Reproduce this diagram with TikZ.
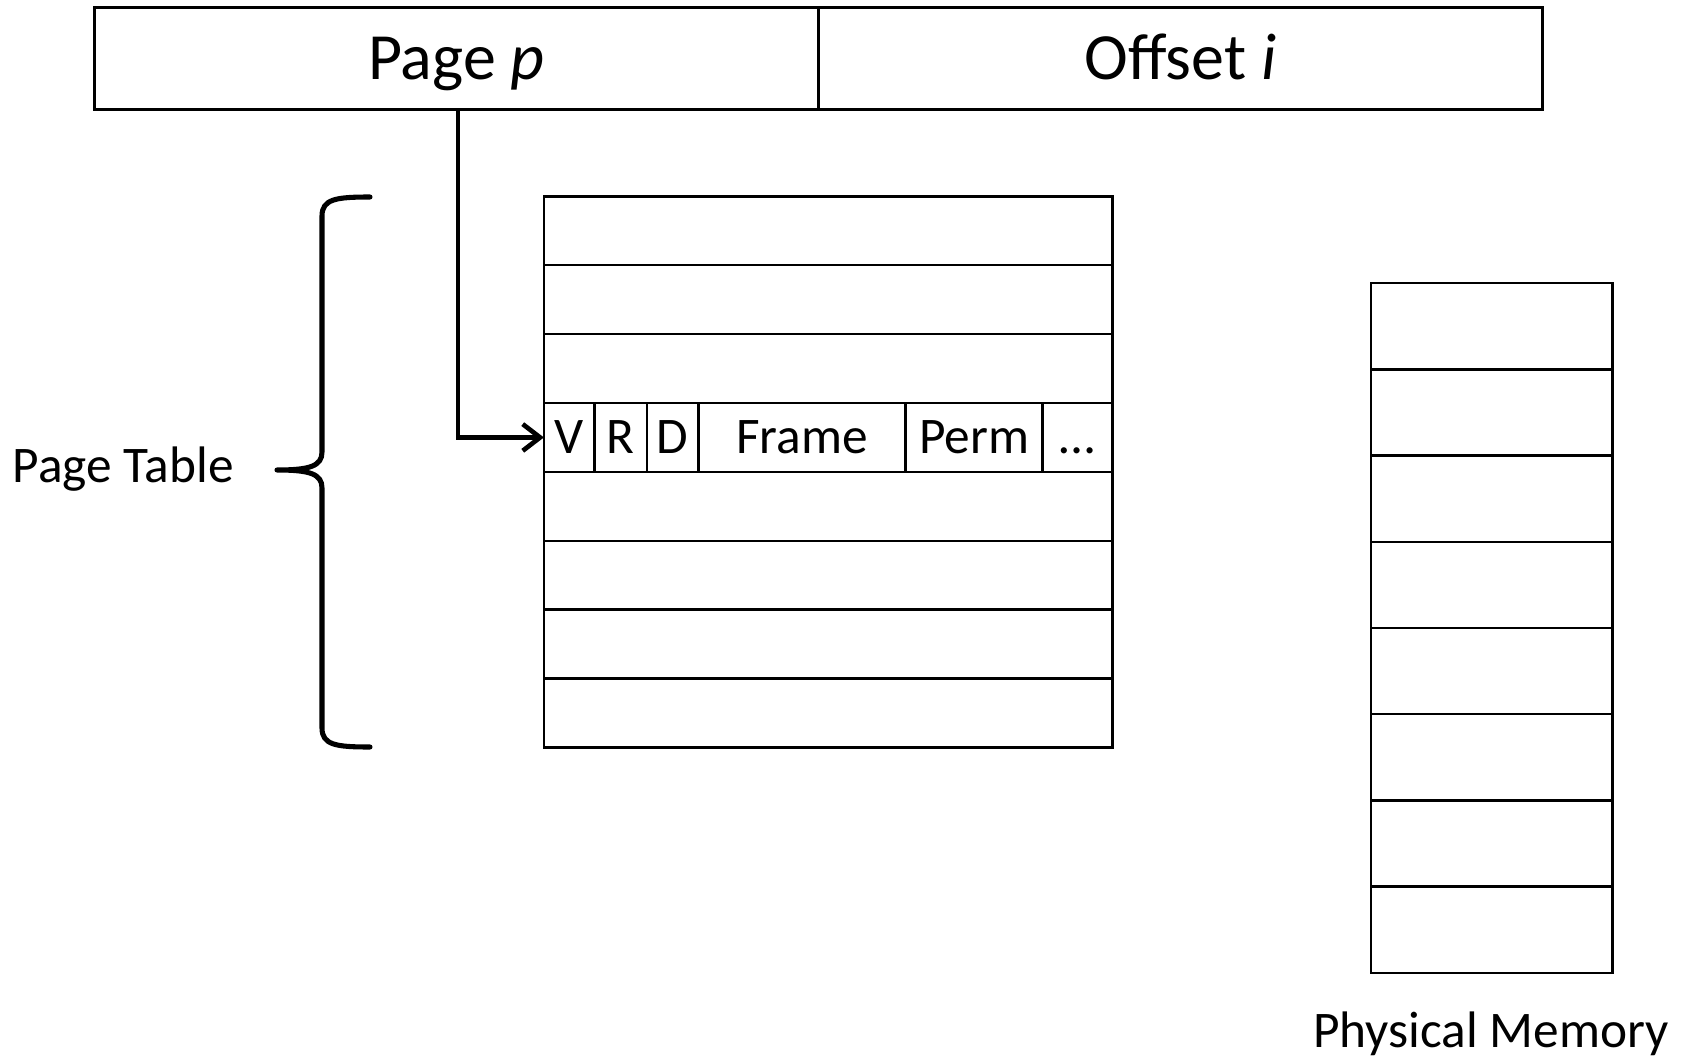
\documentclass[tikz,border=0pt]{standalone}
\usepackage{fontspec}
\setmainfont{Carlito}
\usetikzlibrary{arrows.meta}
\begin{document}
\begin{tikzpicture}[x=0.75pt,y=-0.75pt,
  box/.style={draw, line width=1.9pt, inner sep=0pt, outer sep=0pt, anchor=north west},
  bigtxt/.style={font=\fontsize{49.5}{59}\selectfont, text height=31.2pt, text depth=0pt},
  smalltxt/.style={font=\fontsize{38.5}{46}\selectfont, text height=24.2pt, text depth=0pt},
  lbl/.style={smalltxt, inner sep=0pt, outer sep=0pt},
  conn/.style={line width=3.5pt, -{Straight Barb[length=13pt,width=20pt]}},
  brace/.style={line width=3.8pt, line cap=round, line join=round},
]
\useasboundingbox (0,0) rectangle (1682,1056);

% virtual address
\node[box, bigtxt, minimum width=724.1*0.75pt, minimum height=101.9*0.75pt] (page) at (94.4,7.5) {Page \textit{p}};
\node[box, bigtxt, minimum width=724.1*0.75pt, minimum height=101.9*0.75pt] (offset) at (818.5,7.5) {Offset \textit{i}};

% page table rows
\foreach \i in {0,1,2,4,5,6,7}
  \node[box, minimum width=568.5*0.75pt, minimum height=68.9*0.75pt] (pt\i) at (543.9,{196.3+68.9*\i}) {};

% page table entry
\foreach \n/\x/\w/\t in {cV/543.9/50.4/V, cR/594.3/52.5/R, cD/646.8/51.5/D, cF/698.3/207.1/Frame, cP/905.4/137.3/Perm, cE/1042.7/69.7/{…}}
  \node[box, smalltxt, minimum width=\w*0.75pt, minimum height=68.9*0.75pt] (\n) at (\x,403.0) {\t};

% physical memory
\foreach \i in {0,...,7}
  \node[box, minimum width=241.4*0.75pt, minimum height=86.2*0.75pt] (m\i) at (1370.9,{283.2+86.2*\i}) {};

% arrow
\draw[conn] ([xshift=1.1pt]page.south) |- (cV.west);

% brace
\draw[brace] (370,197) .. controls (336,197) and (322,199) .. (322,216)
  -- (322,452) .. controls (322,466) and (310,470) .. (277,470)
  .. controls (310,470) and (322,474) .. (322,488)
  -- (322,728) .. controls (322,745) and (336,747) .. (370,747);

% labels
\node[lbl, anchor=west] (ptlabel) at (12.9,466.6) {Page Table};
\node[lbl] (pmlabel) at (1491,1031.5) {Physical Memory};
\end{tikzpicture}
\end{document}
